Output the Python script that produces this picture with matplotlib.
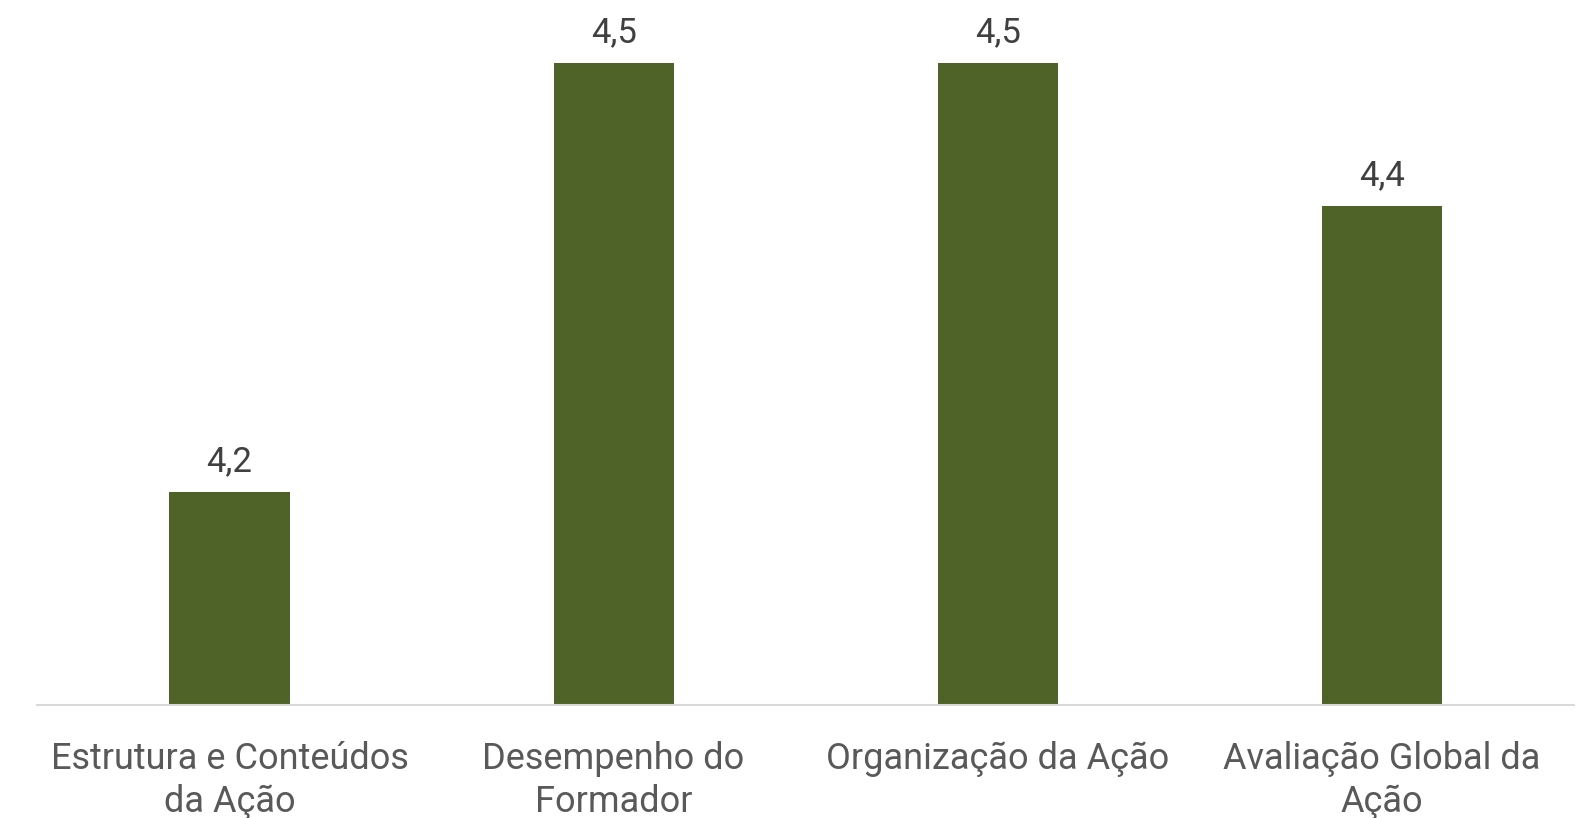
import matplotlib
matplotlib.use("Agg")
import matplotlib.pyplot as plt

categories = ["Estrutura e Conteúdos\nda Ação", "Desempenho do\nFormador",
              "Organização da Ação", "Avaliação Global da\nAção"]
values = [4.2, 4.5, 4.5, 4.4]
labels = ["4,2", "4,5", "4,5", "4,4"]

plt.rcParams['font.family'] = ['Roboto', 'DejaVu Sans']

fig = plt.figure(figsize=(15.84, 8.18), dpi=100)
ax = fig.add_axes([0.0236, 0.138, 0.9701, 0.862])
x = range(len(categories))
bars = ax.bar(x, values, width=0.313, color="#4F6228", zorder=2)
ax.set_xlim(-0.5, 3.5)
ax.set_ylim(4.051, 4.544)

for xi, v, lab in zip(x, values, labels):
    ax.annotate(lab, (xi, v), xytext=(0, 10), textcoords="offset points",
                ha="center", va="bottom", fontsize=25, color="#404040")

ax.set_xticks(list(x))
ax.set_xticklabels(categories, fontsize=26, color="#595959", linespacing=1.24)
ax.tick_params(axis="x", length=0, pad=26)
ax.set_yticks([])
for s in ["top", "right", "left"]:
    ax.spines[s].set_visible(False)
ax.spines["bottom"].set_color("#D9D9D9")
ax.spines["bottom"].set_linewidth(1.5)

fig.savefig("out.png", dpi=100, facecolor="white")
